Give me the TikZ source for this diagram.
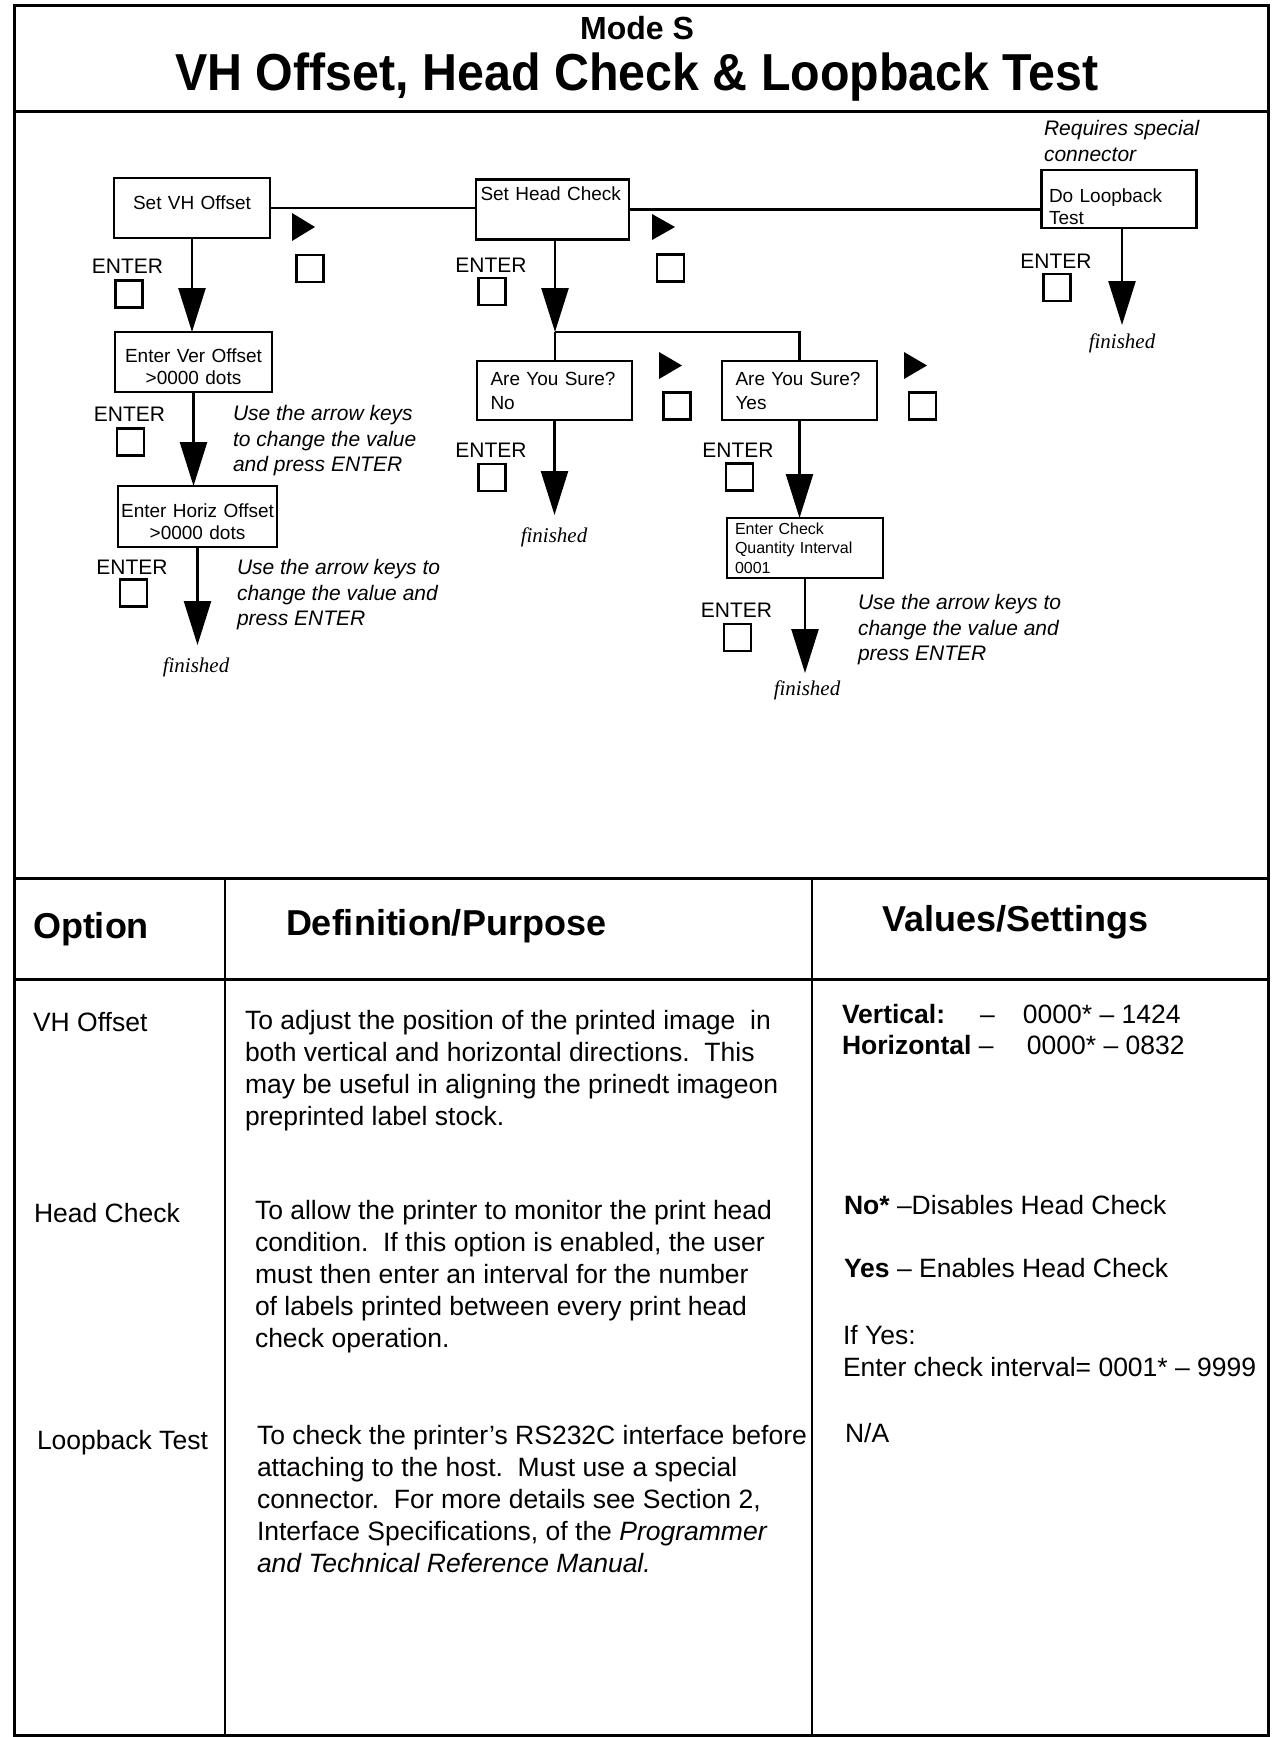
\documentclass[tikz,border=0pt]{standalone}
\usepackage{fontspec}
\setmainfont{Liberation Sans}
\newfontfamily\finfont{Liberation Serif}
\usetikzlibrary{arrows.meta}
\begin{document}
\begin{tikzpicture}[x=1pt,y=-1pt,
  every node/.style={inner sep=0pt, outer sep=0pt},
  frame/.style={line width=3pt},
  box/.style={draw, line width=2.4pt, font=\fontsize{19}{24}\selectfont},
  conn/.style={line width=2.5pt},
  arr/.style={conn, -{Triangle[width=27pt,length=44pt]}},
  key/.style={draw, line width=2.2pt, minimum size=27pt},
  keytri/.style={fill=black},
  enter/.style={font=\fontsize{21}{25}\selectfont},
  note/.style={font=\fontsize{21}{25.5}\selectfont\itshape, align=left, anchor=north west},
  fin/.style={font=\finfont\itshape\fontsize{21}{25}\selectfont},
  head/.style={font=\fontsize{36}{40}\selectfont\bfseries, anchor=base west},
  cell/.style={font=\fontsize{26.5}{32}\selectfont, align=left, anchor=north west},
]
\useasboundingbox (0,0) rectangle (1281,1737);

% frame and table rules
\draw[frame] (14,6) rectangle (1268,1735);
\draw[frame] (14,111) -- (1268,111);
\draw[frame] (14,878) -- (1268,878);
\draw[frame] (14,979) -- (1268,979);
\draw[line width=2.5pt] (225,878) -- (225,1735);
\draw[line width=2.5pt] (812,878) -- (812,1735);

% titles
\node[font=\fontsize{32}{36}\selectfont\bfseries] (mode) at (637,28) {Mode S};
\node[font=\fontsize{52}{58}\selectfont\bfseries, anchor=base, xscale=0.93] (title) at (637,90) {VH Offset, Head Check \& Loopback Test};

% boxes
\node[box, minimum width=156pt, minimum height=60pt, text width=150pt, align=center, text depth=10pt] (vh) at (192,208) {Set VH Offset};
\node[box, minimum width=153pt, minimum height=60pt, text width=144pt, align=left, text depth=32pt] (hc) at (552.5,209.5) {Set Head Check};
\node[box, minimum width=155pt, minimum height=58pt, text width=140pt, align=left, text depth=6pt, font=\fontsize{19}{22}\selectfont] (lb) at (1119,199) {Do Loopback\\Test};
\node[box, minimum width=157pt, minimum height=60pt, text width=150pt, align=center, text depth=12pt, font=\fontsize{19}{22}\selectfont] (ver) at (193.5,362) {Enter Ver Offset\\>0000 dots};
\node[box, minimum width=159pt, minimum height=61pt, text width=157pt, align=center, text depth=11pt, font=\fontsize{19}{22}\selectfont] (hor) at (197.5,516.5) {Enter Horiz Offset\\>0000 dots};
\node[box, minimum width=155pt, minimum height=59pt, text width=128pt, align=left] (no) at (554.5,390.5) {Are You Sure?\\No};
\node[box, minimum width=155pt, minimum height=59pt, text width=128pt, align=left] (yes) at (799.5,390.5) {Are You Sure?\\Yes};
\node[box, minimum width=156pt, minimum height=60pt, text width=140pt, align=left, font=\fontsize{16}{19.5}\selectfont] (chk) at (805,548) {Enter Check\\Quantity Interval\\0001};

% connector end points
\coordinate (j) at (555,332);
\coordinate (f1) at (197.5,645);
\coordinate (f2) at (554.5,515);
\coordinate (f3) at (805,673);
\coordinate (f4) at (1122,325);

% connectors
\draw[conn] (vh.east) -- (vh.east -| hc.west);
\draw[conn] (hc.east) -- (hc.east -| lb.west);
\draw[arr] (vh.south) -- (vh.south |- ver.north);
\draw[arr] (ver.south) -- (ver.south |- hor.north);
\draw[arr] (hor.south) -- (f1);
\draw[arr] (j |- hc.south) -- (j);
\draw[conn] (j) -- (j |- no.north);
\draw[conn] (j) -| (yes.north);
\draw[arr] (no.south) -- (f2);
\draw[arr] (yes.south) -- (yes.south |- chk.north);
\draw[arr] (chk.south) -- (f3);
\draw[arr] (f4 |- lb.south) -- (f4);

% finished labels
\node[fin] (fin1) at (196,667) {finished};
\node[fin] (fin2) at (554,537) {finished};
\node[fin] (fin3) at (807,690) {finished};
\node[fin] (fin4) at (1122,343) {finished};

% ENTER labels
\node[enter] (en1) at (127.5,266.5) {ENTER};
\node[enter] (en2) at (491,265) {ENTER};
\node[enter] (en3) at (129.5,414.5) {ENTER};
\node[enter] (en4) at (132,567) {ENTER};
\node[enter] (en5) at (491,450.5) {ENTER};
\node[enter] (en6) at (738,450.5) {ENTER};
\node[enter] (en7) at (736.5,610.5) {ENTER};
\node[enter] (en8) at (1056,261.5) {ENTER};

% key squares
\node[key] (k1) at (129,294) {};
\node[key] (k2) at (310,268.5) {};
\node[key] (k3) at (492,291.5) {};
\node[key] (k4) at (670.5,268) {};
\node[key] (k5) at (130.5,442) {};
\node[key] (k6) at (133.5,593) {};
\node[key] (k7) at (677,406) {};
\node[key] (k8) at (922.5,406) {};
\node[key] (k9) at (492,477.5) {};
\node[key] (k10) at (739.5,477) {};
\node[key] (k11) at (737.5,637.5) {};
\node[key] (k12) at (1057,287.5) {};

% right arrow key symbols
\fill[keytri] (292,213) -- (315,227) -- (292,241) -- cycle;
\fill[keytri] (652,214) -- (675,227) -- (652,240) -- cycle;
\fill[keytri] (659,352) -- (682,365.5) -- (659,379) -- cycle;
\fill[keytri] (904,352) -- (927,365.5) -- (904,379) -- cycle;

% notes
\node[note] (n1) at (233,405.5) {Use the arrow keys\\to change the value\\and press ENTER};
\node[note] (n2) at (237,559.5) {Use the arrow keys to\\change the value and\\press ENTER};
\node[note] (n3) at (858,594.5) {Use the arrow keys to\\change the value and\\press ENTER};
\node[note] (n4) at (1044,120.5) {Requires special\\connector};

% table header
\node[head] (hopt) at (33,938) {Option};
\node[head] (hdef) at (286,935) {Definition/Purpose};
\node[head] (hval) at (882,931) {Values/Settings};

% row 1
\node[cell] (o1) at (33,1012.5) {VH Offset};
\node[cell] (d1) at (245,1010.5) {To adjust the position of the printed image\ \ in\\both vertical and horizontal directions.\ \ This\\may be useful in aligning the prinedt imageon\\preprinted label stock.};
\node[cell, font=\fontsize{26.5}{31}\selectfont] (v1) at (842,1004.5) {\makebox[138pt][l]{\bfseries Vertical:}\makebox[43pt][l]{–}0000* – 1424\\\makebox[185pt][l]{{\bfseries Horizontal} –}0000* – 0832};

% row 2
\node[cell] (o2) at (34,1203.5) {Head Check};
\node[cell] (d2) at (255,1200.5) {To allow the printer to monitor the print head\\condition.\ \ If this option is enabled, the user\\must then enter an interval for the number\\of labels printed between every print head\\check operation.};
\node[cell] (v2a) at (844,1195.5) {{\bfseries No*} –Disables Head Check};
\node[cell] (v2b) at (844,1258.5) {{\bfseries Yes} – Enables Head Check};
\node[cell] (v2c) at (843,1325.5) {If Yes:\\Enter check interval= 0001* – 9999};

% row 3
\node[cell] (o3) at (37,1430.5) {Loopback Test};
\node[cell] (d3) at (257,1425.5) {To check the printer's RS232C interface before\\attaching to the host.\ \ Must use a special\\connector.\ \ For more details see Section 2,\\Interface Specifications, of the \textit{Programmer}\\\textit{and Technical Reference Manual.}};
\node[cell] (v3) at (845,1423.5) {N/A};
\end{tikzpicture}
\end{document}
